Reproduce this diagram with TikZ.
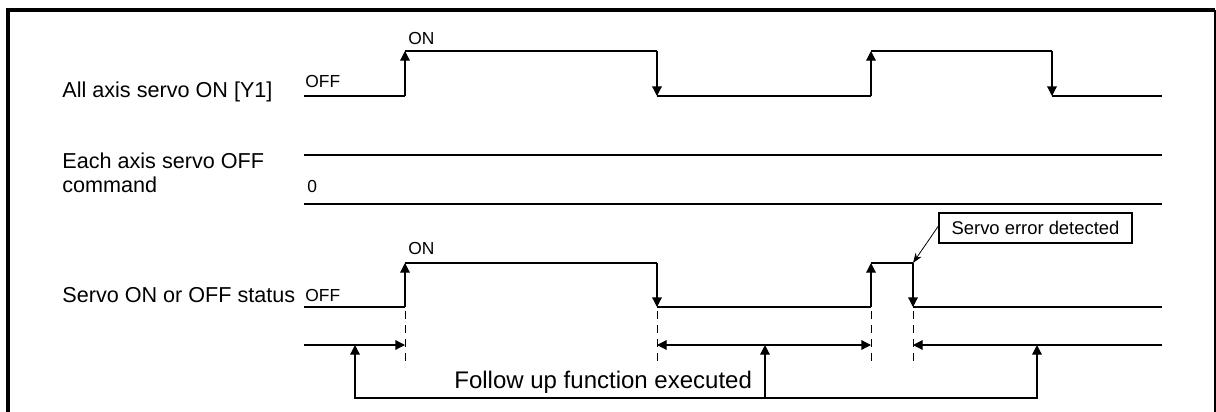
\documentclass[tikz,border=0pt]{standalone}
\usepackage{fontspec}
\setmainfont{Liberation Sans}
\usetikzlibrary{arrows.meta}

\begin{document}
\begin{tikzpicture}[x=0.5pt, y=-0.5pt,
    sig/.style={line width=0.6pt},
    tip/.style={-{Triangle[length=4.8pt,width=4.8pt]}},
    both/.style={{Triangle[length=4.8pt,width=4.8pt]}-{Triangle[length=4.8pt,width=4.8pt]}},
    lbl/.style={anchor=base west, inner sep=0pt, font=\fontsize{10.8}{13}\selectfont},
    lvl/.style={anchor=base west, inner sep=0pt, font=\fontsize{8.7}{10}\selectfont},
    guide/.style={line width=0.5pt, dash pattern=on 4pt off 3pt}]
    \useasboundingbox (0,0) rectangle (1216,412);

    % Frame (open at the bottom)
    \draw[line width=2pt] (8,412) -- (8,10) -- (1215,10);
    \draw[line width=0.6pt] (1215,10) -- (1215,412);

    % Signal names
    \node[lbl] (yone) at (62,97) {All axis servo ON [Y1]};
    \node[lbl] (cmdA) at (62,168) {Each axis servo OFF};
    \node[lbl] (cmdB) at (62,192) {command};
    \node[lbl] (stat) at (62,302) {Servo ON or OFF status};

    % All axis servo ON [Y1]
    \node[lvl] (yoff) at (305,87) {OFF};
    \node[lvl] (yon) at (408,44) {ON};
    \draw[sig] (304,96) -- (405,96);
    \draw[sig, tip] (405,96) -- (405,51);
    \draw[sig] (405,51) -- (657,51);
    \draw[sig, tip] (657,51) -- (657,96);
    \draw[sig] (657,96) -- (871,96);
    \draw[sig, tip] (871,96) -- (871,51);
    \draw[sig] (871,51) -- (1052,51);
    \draw[sig, tip] (1052,51) -- (1052,96);
    \draw[sig] (1052,96) -- (1162,96);

    % Each axis servo OFF command
    \node[lvl] (zero) at (307,192) {0};
    \draw[line width=0.8pt] (304,155) -- (1162,155);
    \draw[line width=0.8pt] (304,204) -- (1162,204);

    % Servo ON or OFF status
    \node[lvl] (soff) at (305,301) {OFF};
    \node[lvl] (son) at (408,254) {ON};
    \draw[sig] (304,307) -- (405,307);
    \draw[sig, tip] (405,307) -- (405,263);
    \draw[sig] (405,263) -- (657,263);
    \draw[sig, tip] (657,263) -- (657,307);
    \draw[sig] (657,307) -- (871,307);
    \draw[sig, tip] (871,307) -- (871,263);
    \draw[sig] (871,263) -- (913,263);
    \draw[sig, tip] (913,263) -- (913,307);
    \draw[sig] (913,307) -- (1162,307);

    % Servo error callout
    \node[draw, line width=0.6pt, minimum width=96.5pt, minimum height=15pt, inner sep=0pt,
          font=\fontsize{9.2}{11}\selectfont] (err) at (1035.5,228) {Servo error detected};
    \coordinate (errpt) at (913,263);
    \draw[line width=0.4pt, -{Stealth[length=5pt,width=3.6pt]}] ([yshift=1pt]err.west) -- (errpt);

    % Dashed guides
    \foreach \gx in {405,657,871,913}
        \draw[guide] (\gx,311) -- (\gx,367);

    % Follow up intervals
    \coordinate (fa) at (304,345);
    \coordinate (fb) at (405,345);
    \coordinate (fc) at (657,345);
    \coordinate (fd) at (871,345);
    \coordinate (fe) at (913,345);
    \coordinate (ff) at (1162,345);
    \draw[sig, tip] (fa) -- (fb);
    \draw[sig, both] (fc) -- (fd);
    \draw[sig, tip] (ff) -- (fe);

    % Follow up function executed
    \coordinate (ua) at (355,345);
    \coordinate (ub) at (765,345);
    \coordinate (uc) at (1037,345);
    \coordinate (base) at (765,398);
    \draw[sig, both] (ua) |- (base) -| (uc);
    \draw[sig, tip] (base) -- (ub);
    \node[anchor=base west, inner sep=0pt, font=\fontsize{12}{14}\selectfont] (fup) at (454,388) {Follow up function executed};
\end{tikzpicture}
\end{document}
